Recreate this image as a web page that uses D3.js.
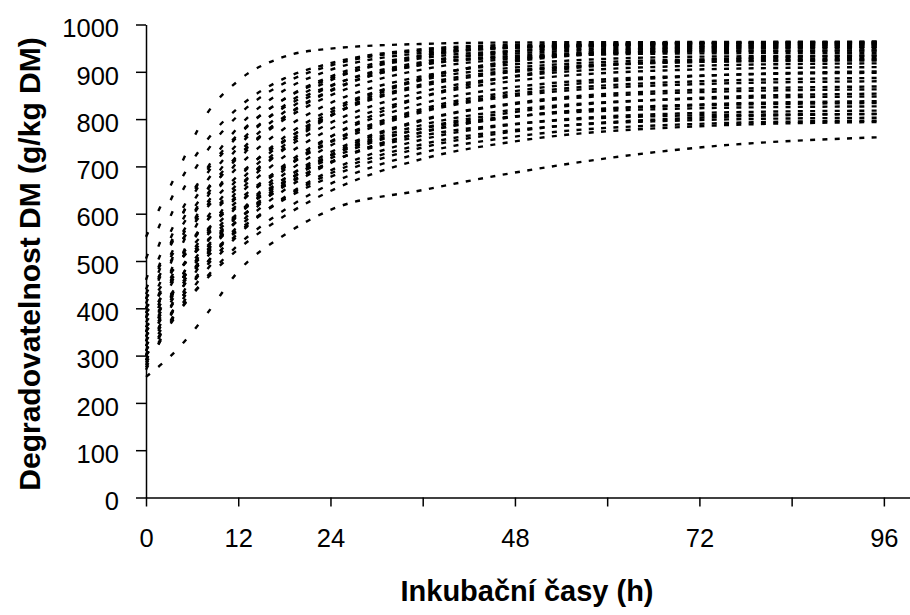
<!DOCTYPE html>
<html>
<head>
<meta charset="utf-8">
<script src="https://cdn.jsdelivr.net/npm/d3@7"></script>
<style>
  html, body { margin: 0; padding: 0; background: #ffffff; }
  svg { display: block; }
  text { font-family: "Liberation Sans", Arial, sans-serif; fill: #000; }
</style>
</head>
<body>
<svg id="chart" width="910" height="615"></svg>
<script>
// Incubation times (h) at which degradability was recorded
const hours = [0, 4, 8, 12, 18, 24, 36, 48, 72, 96];

// Degradability of DM (g/kg DM), one value per sample at each incubation time
const at0h  = [551,505,460,420,440,400,380,430,350,410,330,390,360,300,420,340,310,380,290,350,400,320,280,370,300,340,270,390,310,350,290,330,275,320,300,285,360,300,255];
const at4h  = [686,655,624,576,588,538,570,556,526,563,509,523,487,486,528,484,448,495,445,470,491,444,410,472,424,445,397,475,425,447,406,444,391,433,408,386,442,390,312];
const at8h  = [813,757,734,686,693,642,697,651,652,671,636,624,587,618,614,593,558,586,562,564,567,541,514,555,522,529,497,544,516,524,498,532,483,519,492,468,510,464,390];
const at12h = [881,824,808,765,768,720,783,723,741,749,726,700,665,712,681,675,643,657,651,638,628,618,598,621,599,597,575,601,587,587,570,600,555,587,559,534,565,525,478];
const at18h = [932,886,876,843,842,804,861,799,829,825,815,780,753,805,755,762,739,736,745,721,699,703,693,697,684,674,663,668,666,658,650,674,635,660,633,608,630,595,555];
const at24h = [949,918,913,890,886,859,904,850,882,871,869,834,814,861,808,820,806,792,807,779,753,763,762,751,744,730,724,717,722,709,707,723,691,709,685,663,678,648,608];
const at36h = [959,948,945,935,929,919,940,905,933,915,921,891,887,915,870,883,885,858,874,847,822,833,847,818,815,799,797,781,788,772,773,780,757,765,747,729,740,716,650];
const at48h = [962,957,954,951,944,944,951,928,952,931,939,916,922,934,900,909,924,890,903,881,859,868,891,853,849,834,832,815,820,805,805,806,789,790,777,763,774,753,687];
const at72h = [963,961,957,959,952,961,955,943,961,939,949,932,947,944,921,926,952,913,921,905,891,892,925,880,874,862,857,845,843,831,829,823,813,808,798,790,803,785,740];
const at96h = [964,962,958,960,953,963,956,945,962,940,950,934,953,945,926,929,958,918,924,910,901,898,935,887,880,869,863,854,848,838,834,827,818,811,803,797,811,794,762];

// Axis ticks and labels
const xTicks  = [0, 12, 24, 36, 48, 60, 72, 84, 96];
const xLabels = [0, 12, 24, 48, 72, 96];
const yTicks  = [0, 100, 200, 300, 400, 500, 600, 700, 800, 900, 1000];

const xTitle = "Inkubační časy (h)";
const yTitle = "Degradovatelnost DM (g/kg DM)";

// Build one series per sample from the per-time columns
const columns = [at0h, at4h, at8h, at12h, at18h, at24h, at36h, at48h, at72h, at96h];
const series = at0h.map((_, i) => hours.map((h, j) => ({ h, v: columns[j][i] })));

const svg = d3.select("#chart");

const x = d3.scaleLinear().domain([0, 99.4]).range([146, 910]);
const y = d3.scaleLinear().domain([0, 1000]).range([497.5, 24.5]);

// Y axis
const yAxis = svg.append("g")
  .attr("transform", `translate(${x(0)},0)`)
  .call(d3.axisLeft(y).tickValues(yTicks).tickSize(10).tickSizeOuter(0)
    .tickPadding(17).tickFormat(d3.format("d")));
yAxis.select(".domain").attr("stroke", "#000").attr("stroke-width", 1.5);
yAxis.selectAll(".tick line").attr("stroke", "#000").attr("stroke-width", 1.5);
yAxis.selectAll(".tick text")
  .attr("font-size", 25.5)
  .attr("font-family", "'Liberation Sans', Arial, sans-serif")
  .attr("dy", "0.48em");

// X axis (line runs on past the last tick)
const xAxis = svg.append("g")
  .attr("transform", `translate(0,${y(0)})`)
  .call(d3.axisBottom(x).tickValues(xTicks).tickSize(9).tickSizeOuter(0)
    .tickFormat(d => xLabels.includes(d) ? String(d) : ""));
xAxis.select(".domain").attr("stroke", "#000").attr("stroke-width", 1.5);
xAxis.selectAll(".tick line").attr("stroke", "#000").attr("stroke-width", 1.5);
xAxis.selectAll(".tick text")
  .attr("font-size", 25.5)
  .attr("font-family", "'Liberation Sans', Arial, sans-serif")
  .attr("y", 49)
  .attr("dy", 0);

// Axis titles
svg.append("text")
  .attr("x", 527).attr("y", 601)
  .attr("text-anchor", "middle")
  .attr("font-size", 29).attr("font-weight", "bold")
  .text(xTitle);

svg.append("text")
  .attr("transform", "translate(40,264) rotate(-90)")
  .attr("text-anchor", "middle")
  .attr("font-size", 30).attr("font-weight", "bold")
  .text(yTitle);

// Degradation curves
const line = d3.line()
  .x(d => x(d.h))
  .y(d => y(d.v))
  .curve(d3.curveMonotoneX);

const paths = svg.append("g")
  .selectAll("path")
  .data(series)
  .join("path")
  .attr("d", line)
  .attr("fill", "none")
  .attr("stroke", "#000")
  .attr("stroke-width", 2.4);

// Dash pattern restarts every 1.6 h step, one short dash per step
const stepHours = 1.6;
const dashLen = 5;
const bounds = d3.range(0, 96 + 1e-6, stepHours).map(h => x(h));
bounds[bounds.length - 1] = x(96);

paths.each(function () {
  const node = this;
  const total = node.getTotalLength();
  const lens = bounds.map((bx, k) => {
    if (k === 0) return 0;
    if (k === bounds.length - 1) return total;
    let lo = 0, hi = total;
    for (let i = 0; i < 22; i++) {
      const mid = (lo + hi) / 2;
      if (node.getPointAtLength(mid).x < bx) lo = mid; else hi = mid;
    }
    return (lo + hi) / 2;
  });
  const dash = [];
  for (let k = 0; k < lens.length - 1; k++) {
    const seg = Math.max(0, lens[k + 1] - lens[k]);
    const d = Math.min(dashLen, seg);
    dash.push(d.toFixed(2), (seg - d).toFixed(2));
  }
  node.setAttribute("stroke-dasharray", dash.join(" "));
});
</script>
</body>
</html>
